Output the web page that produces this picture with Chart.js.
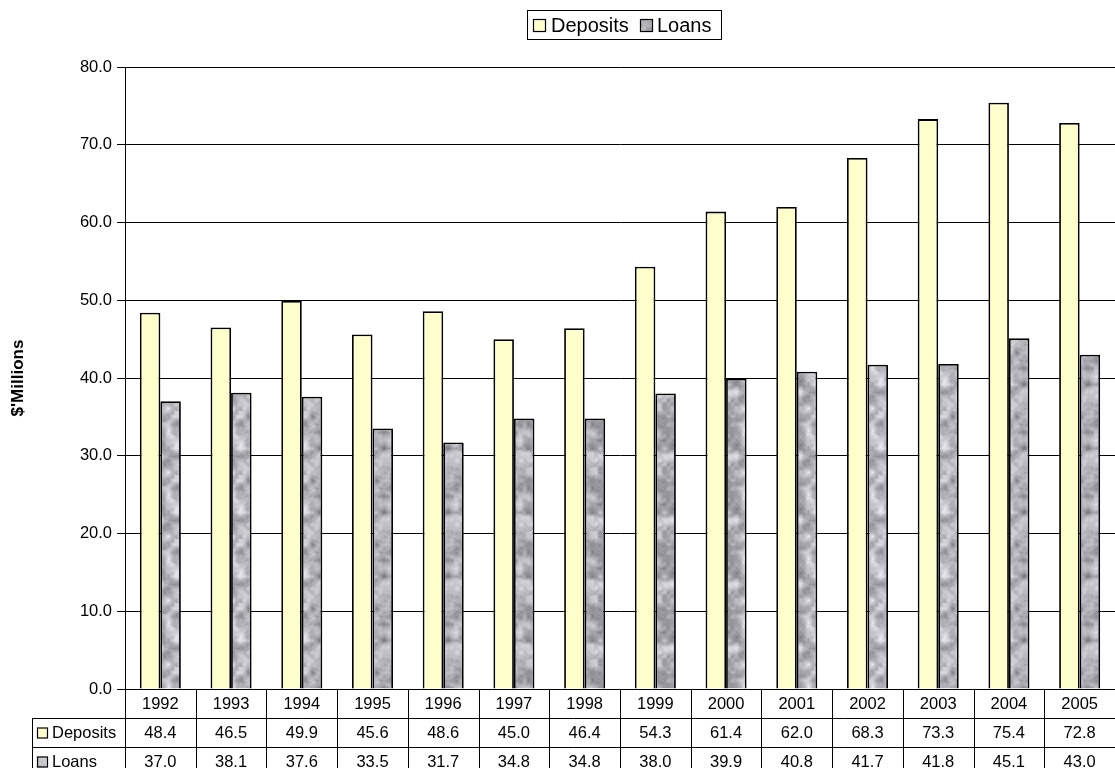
<!DOCTYPE html>
<html>
<head>
<meta charset="utf-8">
<title>Deposits and Loans</title>
<script src="https://cdn.jsdelivr.net/npm/chart.js@4"></script>
<style>
  html, body { margin: 0; padding: 0; background: #fff; }
  #wrap { width: 1115px; height: 768px; position: relative; }
</style>
</head>
<body>
<div id="wrap"><canvas id="bankChart"></canvas></div>
<script>
const years = ["1992", "1993", "1994", "1995", "1996", "1997", "1998", "1999", "2000", "2001", "2002", "2003", "2004", "2005"];
const deposits = [48.4, 46.5, 49.9, 45.6, 48.6, 45.0, 46.4, 54.3, 61.4, 62.0, 68.3, 73.3, 75.4, 72.8];
const loans = [37.0, 38.1, 37.6, 33.5, 31.7, 34.8, 34.8, 38.0, 39.9, 40.8, 41.7, 41.8, 45.1, 43.0];
const yTicks = [0, 10, 20, 30, 40, 50, 60, 70, 80];

const FONT = "'Liberation Sans', Arial, sans-serif";
const DEPOSIT_FILL = "#ffffcc";

// granite-like grey texture for the loans bars (hash noise, no Math.random)
function hash(x, y) {
    let h = x * 374761393 + y * 668265263;
    h = (h ^ (h >>> 13)) * 1274126177;
    return ((h ^ (h >>> 16)) >>> 0) / 4294967295;
}
function smoothNoise(x, y, cell) {
    const x0 = Math.floor(x / cell), y0 = Math.floor(y / cell);
    const fx = x / cell - x0, fy = y / cell - y0;
    const sx = fx * fx * (3 - 2 * fx), sy = fy * fy * (3 - 2 * fy);
    const n = 64 / cell;
    const a = hash(x0 % n, y0 % n), b = hash((x0 + 1) % n, y0 % n);
    const c = hash(x0 % n, (y0 + 1) % n), d = hash((x0 + 1) % n, (y0 + 1) % n);
    return (a * (1 - sx) + b * sx) * (1 - sy) + (c * (1 - sx) + d * sx) * sy;
}
function makeGranite() {
    const size = 64;
    const c = document.createElement("canvas");
    c.width = size; c.height = size;
    const g = c.getContext("2d");
    const img = g.createImageData(size, size);
    for (let y = 0; y < size; y++) {
        for (let x = 0; x < size; x++) {
            const v = 0.55 * smoothNoise(x, y, 8) + 0.3 * smoothNoise(x, y, 4) + 0.15 * smoothNoise(x, y, 2);
            const shade = Math.round(120 + v * 125);
            const i = (y * size + x) * 4;
            img.data[i] = shade; img.data[i + 1] = shade; img.data[i + 2] = shade + 6; img.data[i + 3] = 255;
        }
    }
    g.putImageData(img, 0, 0);
    return g.createPattern(c, "repeat");
}
const granite = makeGranite();

function swatch(ctx, x, y, size, fill) {
    ctx.fillStyle = fill;
    ctx.fillRect(x, y, size, size);
    ctx.strokeStyle = "#000";
    ctx.lineWidth = 1.2;
    ctx.strokeRect(x + 0.5, y + 0.5, size - 1, size - 1);
}

// legend box at the top and data table under the x axis
const extras = {
    id: "extras",
    afterDraw(chart) {
        const ctx = chart.ctx;
        const area = chart.chartArea;
        const xs = chart.scales.x;
        const sets = chart.data.datasets;
        ctx.save();

        // legend
        ctx.font = "20px " + FONT;
        ctx.textBaseline = "middle";
        ctx.textAlign = "left";
        ctx.strokeStyle = "#000";
        ctx.lineWidth = 1;
        ctx.strokeRect(527.5, 10.5, 194, 29);
        swatch(ctx, 533, 19, 13, sets[0].backgroundColor);
        ctx.fillStyle = "#000";
        ctx.fillText(sets[0].label, 551, 26);
        swatch(ctx, 640, 19, 13, sets[1].backgroundColor);
        ctx.fillStyle = "#000";
        ctx.fillText(sets[1].label, 657, 26);

        // data table
        const rowH = 29;
        const top = area.bottom;
        const labelLeft = 32;
        const half = (xs.getPixelForValue(1) - xs.getPixelForValue(0)) / 2;
        const bounds = years.map((y, i) => xs.getPixelForValue(i) - half);
        bounds.push(xs.getPixelForValue(years.length - 1) + half);
        ctx.strokeStyle = "#000";
        ctx.lineWidth = 1;
        ctx.beginPath();
        bounds.forEach((bx) => {
            const x = Math.round(bx) + 0.5;
            ctx.moveTo(x, top);
            ctx.lineTo(x, chart.height);
        });
        for (let r = 1; r <= 3; r++) {
            const y = Math.round(top + r * rowH) + 0.5;
            ctx.moveTo(labelLeft, y);
            ctx.lineTo(area.right, y);
        }
        ctx.moveTo(labelLeft + 0.5, Math.round(top + rowH));
        ctx.lineTo(labelLeft + 0.5, chart.height);
        ctx.stroke();

        ctx.font = "16.5px " + FONT;
        ctx.fillStyle = "#000";
        ctx.textAlign = "center";
        const rows = [years, deposits.map((v) => v.toFixed(1)), loans.map((v) => v.toFixed(1))];
        rows.forEach((row, r) => {
            const cy = top + r * rowH + rowH / 2 + 1;
            row.forEach((t, i) => ctx.fillText(t, xs.getPixelForValue(i), cy));
        });

        ctx.textAlign = "left";
        sets.forEach((ds, r) => {
            const cy = top + (r + 1) * rowH + rowH / 2 + 1;
            swatch(ctx, labelLeft + 5, cy - 6, 11, ds.backgroundColor);
            ctx.fillStyle = "#000";
            ctx.fillText(ds.label, labelLeft + 20, cy);
        });
        ctx.restore();
    },
};

new Chart(document.getElementById("bankChart"), {
    type: "bar",
    data: {
        labels: years,
        datasets: [
            {
                label: "Deposits",
                data: deposits,
                backgroundColor: DEPOSIT_FILL,
                borderColor: "#000",
                borderWidth: 1.8,
            },
            {
                label: "Loans",
                data: loans,
                backgroundColor: granite,
                borderColor: "#000",
                borderWidth: 1.8,
            },
        ],
    },
    options: {
        responsive: true,
        maintainAspectRatio: false,
        animation: false,
        devicePixelRatio: 1,
        layout: { padding: { top: 67, right: 0, bottom: 79, left: 0 } },
        datasets: { bar: { categoryPercentage: 0.58, barPercentage: 1.0 } },
        plugins: {
            legend: { display: false },
            tooltip: { enabled: false },
        },
        scales: {
            x: {
                display: false,
                offset: true,
            },
            y: {
                min: 0,
                max: 80,
                afterBuildTicks(scale) {
                    scale.ticks = yTicks.map((v) => ({ value: v }));
                },
                afterFit(scale) {
                    scale.width = 125;
                },
                border: { display: true, color: "#000", width: 1 },
                grid: { color: "#000", lineWidth: 1, tickLength: 8, drawTicks: true },
                ticks: {
                    padding: 5,
                    color: "#000",
                    font: { family: FONT, size: 16.5 },
                    callback: (v) => Number(v).toFixed(1),
                },
                title: {
                    display: true,
                    text: "$'Millions",
                    color: "#000",
                    font: { family: FONT, size: 17, weight: "bold" },
                    padding: { top: 8, bottom: 0 },
                },
            },
        },
    },
    plugins: [extras],
});
</script>
</body>
</html>
